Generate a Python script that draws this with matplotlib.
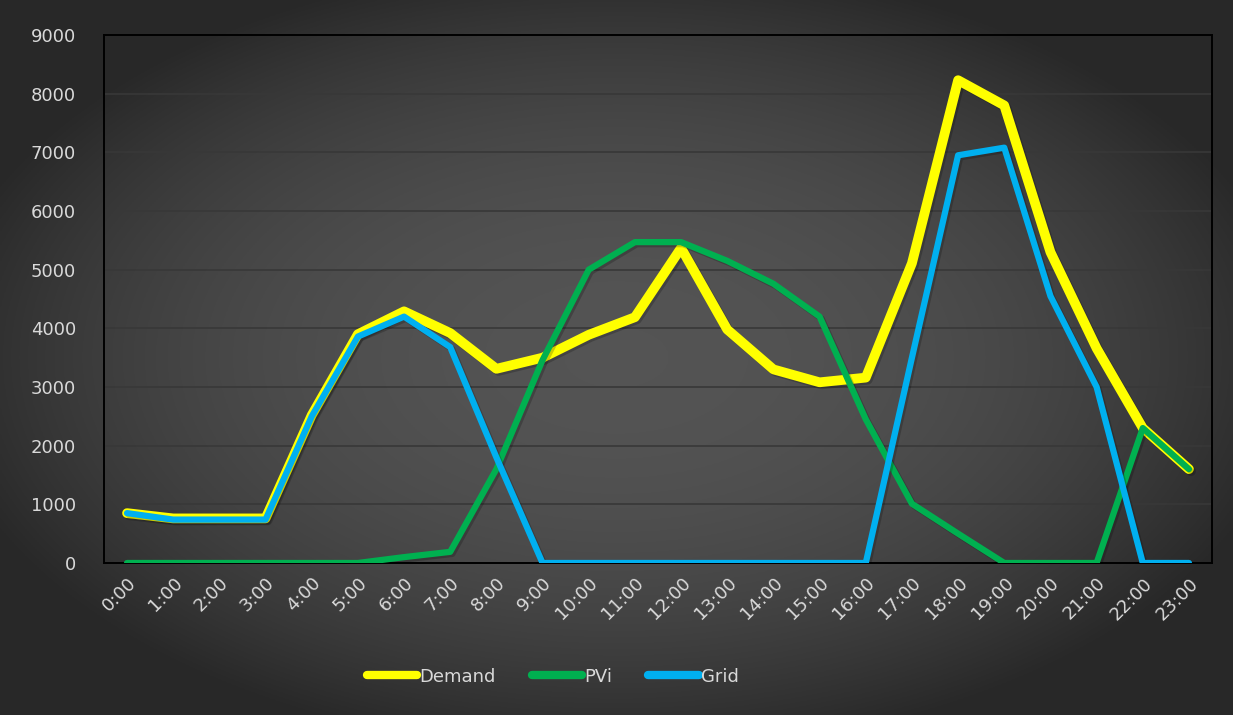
import numpy as np
import matplotlib.pyplot as plt
import matplotlib.patheffects as pe

# Hourly power profile (W)
hours = [f"{h}:00" for h in range(24)]
demand = [850, 760, 760, 760, 2520, 3900, 4290, 3920, 3310, 3500, 3890, 4190,
          5370, 3980, 3300, 3080, 3160, 5110, 8230, 7800, 5300, 3660, 2300, 1600]
pvi = [0, 0, 0, 0, 0, 0, 100, 190, 1600, 3460, 5000, 5470,
       5470, 5150, 4760, 4200, 2450, 1010, 500, 0, 0, 0, 2300, 1600]
grid = [850, 740, 740, 740, 2500, 3860, 4200, 3680, 1800, 0, 0, 0,
        0, 0, 0, 0, 0, 3500, 6950, 7080, 4550, 3000, 0, 0]

text_col = '#d9d9d9'

fig = plt.figure(figsize=(12.33, 7.15), dpi=100)

# dark radial gradient behind everything
bg = fig.add_axes([0, 0, 1, 1], zorder=-10)
gx, gy = np.meshgrid(np.linspace(-1, 1, 600), np.linspace(-1, 1, 400))
r = np.clip(np.sqrt((gx * 0.9) ** 2 + (gy * 0.9) ** 2), 0, 1.0)
shade = 0.33 - 0.17 * r ** 2.2
bg.imshow(np.dstack([shade] * 3), extent=[0, 1, 0, 1], aspect='auto')
bg.axis('off')

ax = fig.add_axes([0.0843, 0.2126, 0.8987, 0.7384])
ax.patch.set_alpha(0)

x = np.arange(len(hours))
shadow = [pe.SimpleLineShadow(offset=(1.5, -1.5), alpha=0.2, shadow_color='black'), pe.Normal()]
ax.plot(x, demand, color='#ffff00', lw=7, label='Demand', solid_joinstyle='round',
        solid_capstyle='round', path_effects=shadow, zorder=3)
ax.plot(x, pvi, color='#00b050', lw=4.5, label='PVi', solid_joinstyle='round',
        solid_capstyle='round', path_effects=shadow, zorder=4)
ax.plot(x, grid, color='#00b0f0', lw=4.5, label='Grid', solid_joinstyle='round',
        solid_capstyle='round', path_effects=shadow, zorder=5)

ax.set_xlim(-0.5, 23.5)
ax.set_ylim(0, 9000)
ax.set_yticks(range(0, 9001, 1000))
ax.set_xticks(x)
ax.set_xticklabels(hours, rotation=45, ha='right', rotation_mode='anchor')
ax.tick_params(length=0, colors=text_col, labelsize=13)
ax.tick_params(axis='y', pad=20)
ax.tick_params(axis='x', pad=8)
ax.grid(axis='y', color='#383838', lw=1.2)
ax.set_axisbelow(True)
for s in ax.spines.values():
    s.set_color('black')
    s.set_linewidth(1.4)

leg = ax.legend(loc='center', bbox_to_anchor=(0.405, -0.215), ncol=3, frameon=False,
                fontsize=13, handlelength=2.8, handletextpad=0.1, columnspacing=2.0,
                labelcolor=text_col)
for h in leg.legend_handles:
    h.set_linewidth(6)
    h.set_path_effects([])

fig.savefig('out.png', dpi=100)
